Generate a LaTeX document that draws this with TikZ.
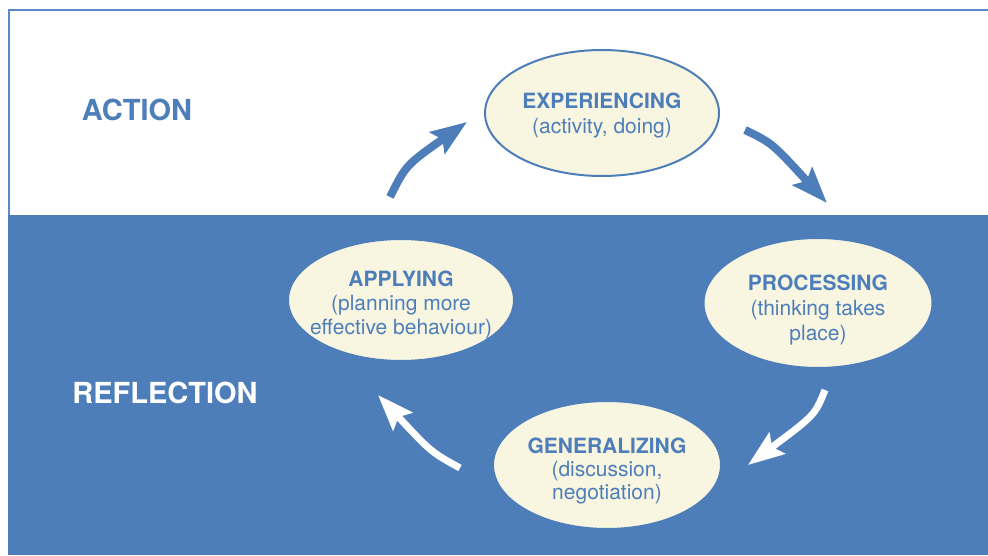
\documentclass[tikz,border=0pt]{standalone}
\usepackage{fontspec}
\setmainfont{TeX Gyre Heros}
\usetikzlibrary{positioning, shapes, arrows.meta}
\definecolor{cycblue}{HTML}{4D7EBA}
\definecolor{cyccream}{HTML}{F8F6E1}
\definecolor{cycline}{HTML}{5B89C3}

\begin{document}
\begin{tikzpicture}[x=1pt,y=-1pt]
		\tikzstyle{stage}=[ellipse,draw=cycblue,line width=2pt,fill=cyccream,inner sep=0pt]
		\tikzstyle{stagetext}=[text=cycblue,align=center,inner sep=0pt,font=\fontsize{21}{25}\selectfont]
		\tikzstyle{phase}=[font=\fontsize{29}{32}\selectfont\bfseries]
		\tikzstyle{cycarrow}=[line width=8pt,-{Stealth[length=36pt,width=26pt,inset=6pt]}]
		
		\useasboundingbox (0,0) rectangle (988,556);
		
		%% Fundo
		\fill[cycblue] (8,215) rectangle (988,555);
		\draw[cycline,line width=2pt] (9,215) -- (9,10) -- (988,10);
		
		%% Fases
		\node[phase,text=cycblue] (action) at (137,110) {ACTION};
		\node[phase,text=white] (reflection) at (165,393) {REFLECTION};
		
		%% Etapas do ciclo
		\node[stage,minimum width=234pt,minimum height=126pt] (exp) at (602,113) {};
		\node[stage,minimum width=229pt,minimum height=130pt] (proc) at (818,303) {};
		\node[stage,minimum width=228pt,minimum height=128pt] (gen) at (607,465) {};
		\node[stage,minimum width=226pt,minimum height=122pt] (app) at (401,300) {};
		
		\node[stagetext,yshift=-3pt] (exptext) at (exp.center)
		{\textbf{EXPERIENCING}\\(activity, doing)};
		\node[stagetext,yshift=-7pt] (proctext) at (proc.center)
		{\textbf{PROCESSING}\\(thinking takes\\place)};
		\node[stagetext,yshift=-6pt] (gentext) at (gen.center)
		{\textbf{GENERALIZING}\\[-2pt](discussion,\\[-2pt]negotiation)};
		\node[stagetext,yshift=-5pt] (apptext) at (app.center)
		{\textbf{APPLYING}\\[-1pt](planning more\\[-1pt]effective behaviour)};
		
		%% Setas
		\coordinate (a1s) at (390,197);
		\coordinate (a1e) at (467,122);
		\coordinate (a2s) at (745,130);
		\coordinate (a2e) at (827,203);
		\coordinate (a3s) at (825,390);
		\coordinate (a3e) at (748,465);
		\coordinate (a4s) at (460,468);
		\coordinate (a4e) at (378,395);
		\draw[cycarrow,cycblue] (a1s) .. controls (406,165) .. (a1e);
		\draw[cycarrow,cycblue] (a2s) .. controls (772,143) .. (a2e);
		\draw[cycarrow,white,line width=7pt] (a3s) .. controls (815,415) .. (a3e);
		\draw[cycarrow,white,line width=7pt] (a4s) .. controls (431,452) .. (a4e);
		
	\end{tikzpicture}
\end{document}
